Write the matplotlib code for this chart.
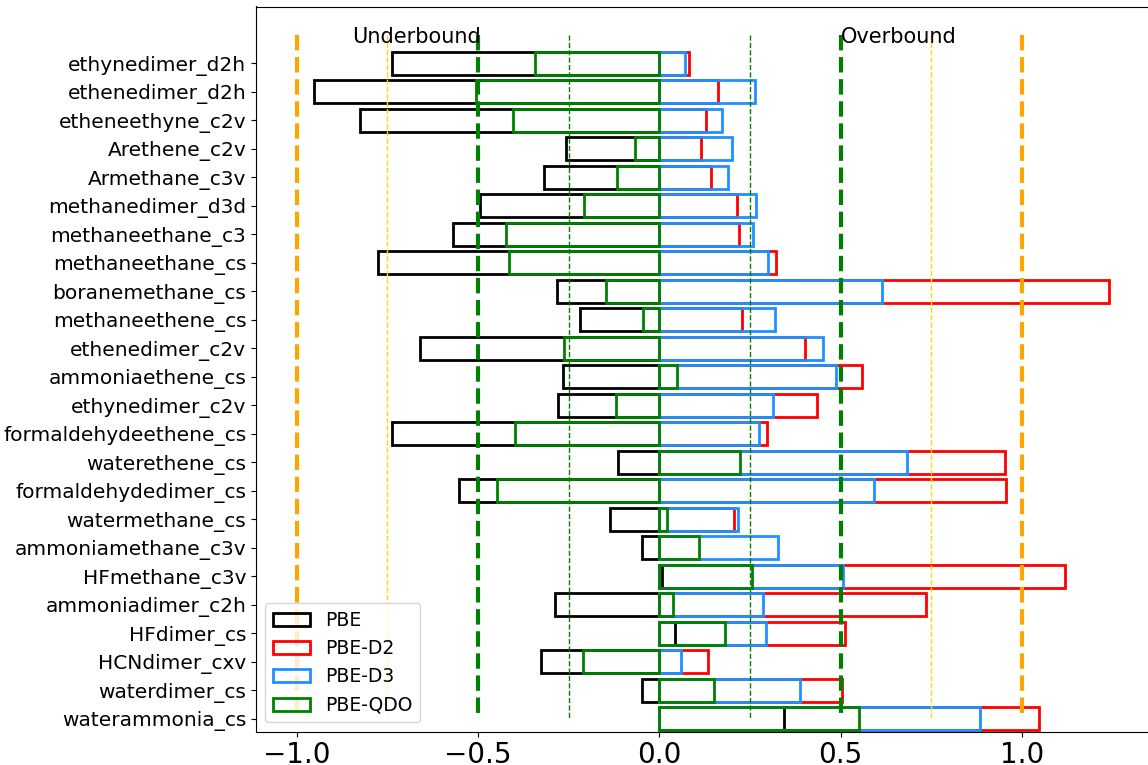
import numpy as np
import matplotlib
matplotlib.use("Agg")
import matplotlib.pyplot as plt

systems = ["ethynedimer_d2h", "ethenedimer_d2h", "etheneethyne_c2v", "Arethene_c2v",
           "Armethane_c3v", "methanedimer_d3d", "methaneethane_c3", "methaneethane_cs",
           "boranemethane_cs", "methaneethene_cs", "ethenedimer_c2v", "ammoniaethene_cs",
           "ethynedimer_c2v", "formaldehydeethene_cs", "waterethene_cs", "formaldehydedimer_cs",
           "watermethane_cs", "ammoniamethane_c3v", "HFmethane_c3v", "ammoniadimer_c2h",
           "HFdimer_cs", "HCNdimer_cxv", "waterdimer_cs", "waterammonia_cs"]

pbe = [-0.738, -0.951, -0.825, -0.256, -0.318, -0.494, -0.569, -0.776,
       -0.282, -0.219, -0.661, -0.265, -0.280, -0.738, -0.113, -0.551,
       -0.135, -0.048, 0.009, -0.288, 0.043, -0.325, -0.048, 0.344]
pbe_d2 = [0.083, 0.163, 0.130, 0.115, 0.143, 0.214, 0.221, 0.322,
          1.240, 0.229, 0.402, 0.558, 0.436, 0.297, 0.954, 0.955,
          0.205, np.nan, 1.120, 0.736, 0.511, 0.134, 0.505, 1.047]
pbe_d3 = [0.070, 0.264, 0.172, 0.200, 0.191, 0.266, 0.258, 0.300,
          0.615, 0.318, 0.451, 0.488, 0.315, 0.276, 0.682, 0.592,
          0.218, 0.327, 0.507, 0.285, 0.295, 0.061, 0.389, 0.884]
pbe_qdo = [-0.342, -0.505, -0.402, -0.067, -0.116, -0.207, -0.422, -0.413,
           -0.146, -0.046, -0.264, 0.050, -0.118, -0.399, 0.224, -0.447,
           0.021, 0.111, 0.256, 0.037, 0.182, -0.211, 0.152, 0.552]

series_names = ["PBE", "PBE-D2", "PBE-D3", "PBE-QDO"]
series_values = [pbe, pbe_d2, pbe_d3, pbe_qdo]
series_colors = ["black", "red", "dodgerblue", "green"]

fig = plt.figure(figsize=(11.48, 7.65), dpi=100)
ax = fig.add_axes([256 / 1148, (765 - 731.7) / 765, (1149.5 - 256) / 1148, (731.7 - 6.5) / 765])

y = np.arange(len(systems))
for name, vals, col in zip(series_names, series_values, series_colors):
    ax.barh(y, vals, height=0.8, facecolor="none", edgecolor=col, linewidth=2, label=name)

ymin, ymax = -1, len(systems) - 1
ax.vlines([-1, 1], ymin, ymax, colors="orange", linestyles="--", linewidth=3)
ax.vlines([-0.5, 0.5], ymin, ymax, colors="green", linestyles="--", linewidth=3)
ax.vlines([-0.75, 0.75], ymin, ymax, colors="gold", linestyles="--", linewidth=1)
ax.vlines([-0.25, 0.25], ymin, ymax, colors="green", linestyles="--", linewidth=1)

ax.text(-0.847, -0.72, "Underbound", fontsize=15, va="baseline", ha="left")
ax.text(0.502, -0.72, "Overbound", fontsize=15, va="baseline", ha="left")

ax.set_yticks(y)
ax.set_yticklabels(systems, fontsize=14.5)
ax.set_ylim(23.456, -1.99)
ax.set_xlim(-1.112, 1.352)
ax.set_xticks([-1.0, -0.5, 0.0, 0.5, 1.0])
ax.tick_params(axis="x", labelsize=20)
ax.legend(loc="lower left", fontsize=13.5)

fig.savefig("out.png", dpi=100)
